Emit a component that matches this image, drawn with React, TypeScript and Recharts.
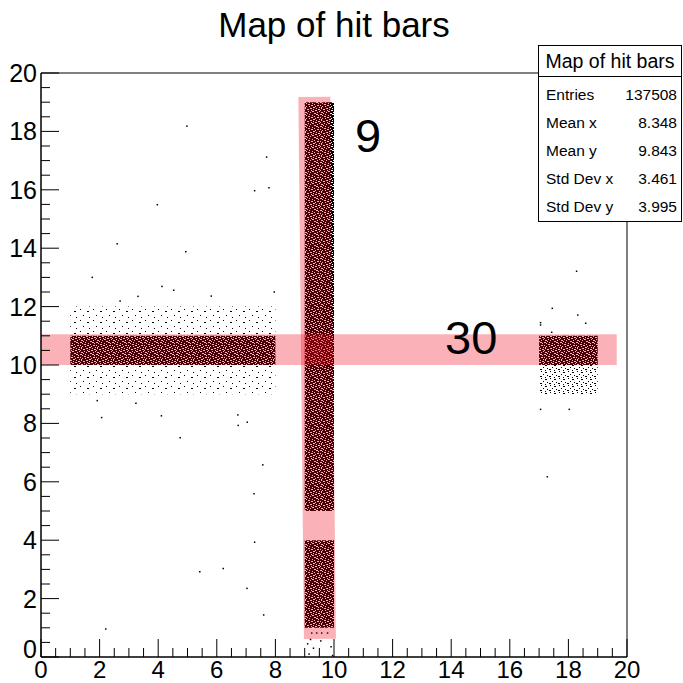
import { ComposedChart, ReferenceArea, Scatter, XAxis, YAxis } from "recharts";

const FONT = "'Liberation Sans', Arial, Helvetica, sans-serif";

// axis ticks (minor every 0.5, labelled every 2)
const axisTicks = [
  0, 0.5, 1, 1.5, 2, 2.5, 3, 3.5, 4, 4.5, 5, 5.5, 6, 6.5, 7, 7.5, 8, 8.5, 9, 9.5, 10,
  10.5, 11, 11.5, 12, 12.5, 13, 13.5, 14, 14.5, 15, 15.5, 16, 16.5, 17, 17.5, 18, 18.5, 19, 19.5, 20,
];
const majorTicks = [0, 2, 4, 6, 8, 10, 12, 14, 16, 18, 20];

// hit regions as [xFrom, xTo, yFrom, yTo]
const denseHits = [
  [1, 8, 10, 11],
  [9, 10, 5, 19],
  [9, 10, 1, 4],
  [17, 19, 10, 11],
];
const sparseHits = [
  [1, 8, 11, 12],
  [1, 8, 9, 10],
];
const mediumHits = [[17, 19, 9, 10]];

// highlighted bars
const barH = [0, 19.65, 10, 11.05];
const barV = [
  { x: 9.52, y: 0.62 },
  { x: 9.33, y: 19.18 },
];
const barLabels = [
  { x: 10.72, y: 17.29, name: "9" },
  { x: 13.79, y: 10.38, name: "30" },
];

// isolated hits
const strayHits = [
  { x: 4.98, y: 18.18 }, { x: 7.7, y: 17.12 }, { x: 7.78, y: 16.07 }, { x: 7.29, y: 15.97 },
  { x: 3.97, y: 15.49 }, { x: 2.6, y: 14.15 }, { x: 4.94, y: 13.88 }, { x: 1.75, y: 13.0 },
  { x: 4.13, y: 12.69 }, { x: 4.53, y: 12.56 }, { x: 5.81, y: 12.36 }, { x: 7.96, y: 12.5 },
  { x: 3.31, y: 12.35 }, { x: 2.7, y: 12.19 },
  { x: 1.92, y: 8.78 }, { x: 3.24, y: 8.69 }, { x: 2.07, y: 8.2 }, { x: 4.11, y: 8.26 },
  { x: 6.72, y: 8.29 }, { x: 6.73, y: 7.93 }, { x: 7.04, y: 8.04 }, { x: 4.75, y: 7.51 },
  { x: 7.57, y: 6.58 }, { x: 7.27, y: 5.59 }, { x: 7.29, y: 3.93 }, { x: 6.22, y: 3.03 },
  { x: 5.42, y: 2.92 }, { x: 7.03, y: 2.35 }, { x: 7.6, y: 1.44 }, { x: 2.21, y: 0.96 },
  { x: 18.28, y: 13.21 }, { x: 17.45, y: 11.94 }, { x: 18.32, y: 11.71 }, { x: 18.59, y: 11.43 },
  { x: 17.05, y: 11.45 }, { x: 17.05, y: 11.37 }, { x: 17.43, y: 11.12 }, { x: 17.05, y: 8.48 },
  { x: 18.03, y: 8.48 }, { x: 17.28, y: 6.17 },
  { x: 9.24, y: 0.82 }, { x: 9.41, y: 0.82 }, { x: 9.58, y: 0.82 }, { x: 9.78, y: 0.82 },
  { x: 9.1, y: 0.45 }, { x: 9.15, y: 0.1 }, { x: 9.3, y: 0.3 }, { x: 9.55, y: 0.55 },
  { x: 9.9, y: 0.35 }, { x: 9.95, y: 0.05 }, { x: 9.2, y: 0.6 },
];

const statLabels = ["Entries", "Mean x", "Mean y", "Std Dev x", "Std Dev y"];
const statValues = ["137508", "8.348", "9.843", "3.461", "3.995"];

const PINK = "#f00014";

// light gaps inside the dense hit texture, per row: [x, width]
const denseGaps = [
  [[1, 1], [6, 2], [12, 1]],
  [[3, 2], [9, 1], [14, 2]],
  [[0, 1], [7, 1], [11, 2]],
  [[4, 1], [8, 2], [15, 1]],
  [[1, 2], [6, 1], [13, 1]],
  [[10, 2], [3, 1]],
  [[0, 2], [5, 1], [12, 2]],
  [[8, 1], [14, 1], [2, 1]],
  [[4, 2], [10, 1]],
  [[0, 1], [7, 2], [13, 2]],
  [[2, 1], [11, 1], [5, 1]],
  [[9, 2], [15, 1], [1, 1]],
];

function Patterns() {
  return (
    <svg width={0} height={0} style={{ position: "absolute" }}>
      <defs>
        <pattern id="dense" width={16} height={12} patternUnits="userSpaceOnUse">
          <rect width={16} height={12} fill="#000" />
          {denseGaps.map((row, y) =>
            row.map(([x, w]) => <rect key={y + "-" + x} x={x} y={y} width={w} height={1} fill="#fff" />)
          )}
        </pattern>
        <pattern id="sparse" width={13} height={11} patternUnits="userSpaceOnUse">
          <rect x={2} y={1} width={1} height={1} fill="#000" />
          <rect x={9} y={3} width={2} height={1} fill="#000" />
          <rect x={5} y={7} width={1} height={1} fill="#000" />
          <rect x={11} y={9} width={1} height={1} fill="#000" />
        </pattern>
        <pattern id="medium" width={9} height={7} patternUnits="userSpaceOnUse">
          <rect x={1} y={0} width={1} height={1} fill="#000" />
          <rect x={5} y={1} width={2} height={1} fill="#000" />
          <rect x={3} y={3} width={1} height={1} fill="#000" />
          <rect x={7} y={4} width={1} height={1} fill="#000" />
          <rect x={0} y={5} width={2} height={1} fill="#000" />
          <rect x={5} y={6} width={1} height={1} fill="#000" />
        </pattern>
      </defs>
    </svg>
  );
}

function XTick(props: any) {
  const { x, y, payload } = props;
  const v = payload.value;
  const major = majorTicks.includes(v);
  return (
    <g>
      <line x1={x} x2={x} y1={y} y2={y - (major ? 18 : 9)} stroke="#000" />
      {major && (
        <text x={x} y={y + 21} textAnchor="middle" fontSize={24} fontFamily={FONT} fill="#000">
          {v}
        </text>
      )}
    </g>
  );
}

function YTick(props: any) {
  const { x, y, payload } = props;
  const v = payload.value;
  const major = majorTicks.includes(v);
  return (
    <g>
      <line x1={x} x2={x + (major ? 18 : 9)} y1={y} y2={y} stroke="#000" />
      {major && (
        <text x={x - 4} y={y + (v === 0 ? 1 : 9)} textAnchor="end" fontSize={25} fontFamily={FONT} fill="#000">
          {v}
        </text>
      )}
    </g>
  );
}

export default function App() {
  return (
    <div style={{ position: "absolute", left: 0, top: 0, width: 683, height: 683, background: "#fff", fontFamily: FONT }}>
      <Patterns />
      <ComposedChart width={683} height={683} margin={{ top: 73, right: 56, bottom: 0, left: 0 }}>
        <XAxis
          type="number"
          dataKey="x"
          domain={[0, 20]}
          ticks={axisTicks}
          interval={0}
          height={26}
          tickSize={0}
          tickMargin={0}
          tickLine={false}
          axisLine={{ stroke: "#000" }}
          tick={<XTick />}
          allowDataOverflow
        />
        <YAxis
          type="number"
          dataKey="y"
          domain={[0, 20]}
          ticks={axisTicks}
          interval={0}
          width={41}
          tickSize={0}
          tickMargin={0}
          tickLine={false}
          axisLine={{ stroke: "#000" }}
          tick={<YTick />}
          allowDataOverflow
        />
        {sparseHits.map(([x1, x2, y1, y2], i) => (
          <ReferenceArea key={"s" + i} x1={x1} x2={x2} y1={y1} y2={y2} fill="url(#sparse)" fillOpacity={1} stroke="none" />
        ))}
        {mediumHits.map(([x1, x2, y1, y2], i) => (
          <ReferenceArea key={"m" + i} x1={x1} x2={x2} y1={y1} y2={y2} fill="url(#medium)" fillOpacity={1} stroke="none" />
        ))}
        {denseHits.map(([x1, x2, y1, y2], i) => (
          <ReferenceArea key={"d" + i} x1={x1} x2={x2} y1={y1} y2={y2} fill="url(#dense)" fillOpacity={1} stroke="none" />
        ))}
        <ReferenceArea x1={barH[0]} x2={barH[1]} y1={barH[2]} y2={barH[3]} fill={PINK} fillOpacity={0.3} stroke="none" />
        <ReferenceArea x1={0} x2={20} y1={0} y2={20} fill="none" fillOpacity={0} stroke="#000" strokeWidth={1} />
        <Scatter
          data={strayHits}
          isAnimationActive={false}
          shape={(p: any) => <rect x={p.cx - 0.75} y={p.cy - 0.75} width={1.5} height={1.5} fill="#000" />}
        />
        <Scatter
          data={barV}
          isAnimationActive={false}
          shape={() => <g />}
          line={{ stroke: PINK, strokeWidth: 32, strokeOpacity: 0.3 }}
        />
        <Scatter
          data={barLabels}
          isAnimationActive={false}
          shape={(p: any) => (
            <text x={p.cx} y={p.cy} fontSize={47} fontFamily={FONT} fill="#000">
              {p.payload.name}
            </text>
          )}
        />
      </ComposedChart>
      <svg width={683} height={683} style={{ position: "absolute", left: 0, top: 0, pointerEvents: "none" }}>
        <text x={334} y={37} textAnchor="middle" fontSize={35} fontFamily={FONT} fill="#000">
          Map of hit bars
        </text>
        <rect x={538.5} y={45.5} width={143} height={176} fill="#fff" stroke="#000" />
        <line x1={538.5} x2={681.5} y1={76.5} y2={76.5} stroke="#000" />
        <text x={610} y={68} textAnchor="middle" fontSize={19.5} fontFamily={FONT} fill="#000">
          Map of hit bars
        </text>
        {statLabels.map((label, i) => (
          <g key={label}>
            <text x={546} y={100 + i * 28} fontSize={15.5} fontFamily={FONT} fill="#000">
              {label}
            </text>
            <text x={677} y={100 + i * 28} textAnchor="end" fontSize={15.5} fontFamily={FONT} fill="#000">
              {statValues[i]}
            </text>
          </g>
        ))}
      </svg>
    </div>
  );
}
